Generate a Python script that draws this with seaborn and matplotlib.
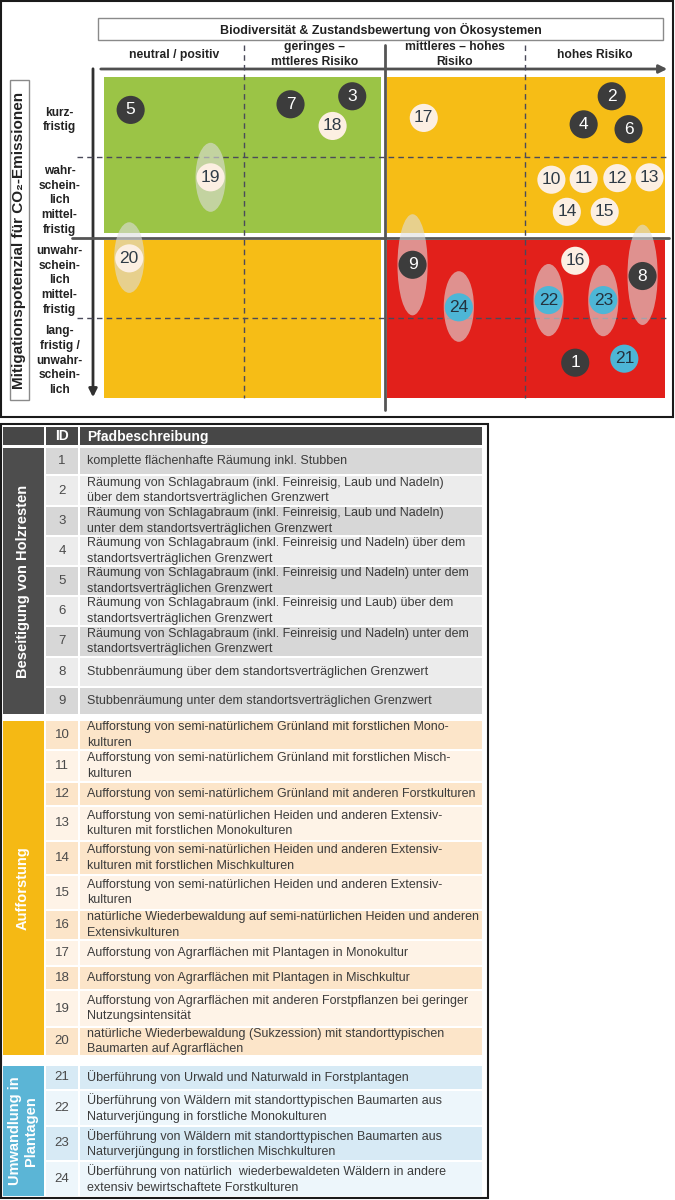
import matplotlib
matplotlib.use("Agg")
import matplotlib.pyplot as plt
from matplotlib.patches import Rectangle, Ellipse
import seaborn as sns
import pandas as pd

# --- Matrix data: x = biodiversity risk (0-4), y = mitigation timeframe (0-4, top = short-term)
path_ids = list(range(1, 25))
risk_pos = [3.36, 3.62, 1.77, 3.42, 0.19, 3.74, 1.33, 3.84, 2.20,
            3.19, 3.42, 3.66, 3.89, 3.30, 3.57, 3.36, 2.28, 1.63, 0.76, 0.18,
            3.71, 3.17, 3.56, 2.53]
time_pos = [3.56, 0.24, 0.24, 0.59, 0.41, 0.65, 0.34, 2.48, 2.34,
            1.28, 1.27, 1.26, 1.25, 1.68, 1.68, 2.29, 0.51, 0.61, 1.25, 2.26,
            3.51, 2.78, 2.78, 2.87]
path_group = ["Holzresten"] * 9 + ["Aufforstung"] * 11 + ["Plantagen"] * 4

# uncertainty ranges (drawn as ellipses)
range_ids = [19, 20, 9, 24, 22, 23, 8]
range_low = [0.82, 1.81, 1.71, 2.42, 2.33, 2.34, 1.84]
range_high = [1.68, 2.69, 2.97, 3.30, 3.23, 3.23, 3.09]

risk_labels = ["neutral / positiv", "geringes –\nmttleres Risiko",
               "mittleres – hohes\nRisiko", "hohes Risiko"]
time_labels = ["kurz-\nfristig", "wahr-\nschein-\nlich\nmittel-\nfristig",
               "unwahr-\nschein-\nlich\nmittel-\nfristig",
               "lang-\nfristig /\nunwahr-\nschein-\nlich"]

# --- Table data
group_names = ["Beseitigung von Holzresten", "Aufforstung", "Umwandlung in\nPlantagen"]
descriptions = [
    "komplette flächenhafte Räumung inkl. Stubben",
    "Räumung von Schlagabraum (inkl. Feinreisig, Laub und Nadeln)\nüber dem standortsverträglichen Grenzwert",
    "Räumung von Schlagabraum (inkl. Feinreisig, Laub und Nadeln)\nunter dem standortsverträglichen Grenzwert",
    "Räumung von Schlagabraum (inkl. Feinreisig und Nadeln) über dem\nstandortsverträglichen Grenzwert",
    "Räumung von Schlagabraum (inkl. Feinreisig und Nadeln) unter dem\nstandortsverträglichen Grenzwert",
    "Räumung von Schlagabraum (inkl. Feinreisig und Laub) über dem\nstandortsverträglichen Grenzwert",
    "Räumung von Schlagabraum (inkl. Feinreisig und Nadeln) unter dem\nstandortsverträglichen Grenzwert",
    "Stubbenräumung über dem standortsverträglichen Grenzwert",
    "Stubbenräumung unter dem standortsverträglichen Grenzwert",
    "Aufforstung von semi-natürlichem Grünland mit forstlichen Mono-\nkulturen",
    "Aufforstung von semi-natürlichem Grünland mit forstlichen Misch-\nkulturen",
    "Aufforstung von semi-natürlichem Grünland mit anderen Forstkulturen",
    "Aufforstung von semi-natürlichen Heiden und anderen Extensiv-\nkulturen mit forstlichen Monokulturen",
    "Aufforstung von semi-natürlichen Heiden und anderen Extensiv-\nkulturen mit forstlichen Mischkulturen",
    "Aufforstung von semi-natürlichen Heiden und anderen Extensiv-\nkulturen",
    "natürliche Wiederbewaldung auf semi-natürlichen Heiden und anderen\nExtensivkulturen",
    "Aufforstung von Agrarflächen mit Plantagen in Monokultur",
    "Aufforstung von Agrarflächen mit Plantagen in Mischkultur",
    "Aufforstung von Agrarflächen mit anderen Forstpflanzen bei geringer\nNutzungsintensität",
    "natürliche Wiederbewaldung (Sukzession) mit standorttypischen\nBaumarten auf Agrarflächen",
    "Überführung von Urwald und Naturwald in Forstplantagen",
    "Überführung von Wäldern mit standorttypischen Baumarten aus\nNaturverjüngung in forstliche Monokulturen",
    "Überführung von Wäldern mit standorttypischen Baumarten aus\nNaturverjüngung in forstlichen Mischkulturen",
    "Überführung von natürlich  wiederbewaldeten Wäldern in andere\nextensiv bewirtschaftete Forstkulturen",
]

# layout (pixel edges of table rows, per group)
group_edges = [
    [448, 476, 507, 537, 567, 597, 627, 658, 688, 716],
    [721, 751, 783, 807, 842, 876, 911, 941, 967, 991, 1028, 1057],
    [1066, 1091, 1127, 1162, 1198],
]

# colours
bubble_colors = {"Holzresten": "#3c3c3c", "Aufforstung": "#fcefe2", "Plantagen": "#4db6d6"}
number_colors = {"Holzresten": "white", "Aufforstung": "#2f3b46", "Plantagen": "#24323e"}
side_colors = ["#4d4d4d", "#f5b914", "#5bb5d6"]
row_colors = [("#d7d7d7", "#ececec"), ("#fce5c9", "#fef3e7"), ("#d7eaf5", "#edf6fb")]

sns.set_theme(style="white")
NARROW = ["Liberation Sans Narrow", "Liberation Sans", "DejaVu Sans"]
plt.rcParams["font.family"] = ["Liberation Sans", "DejaVu Sans"]

fig = plt.figure(figsize=(6.75, 12), dpi=100)
fig.patch.set_facecolor("white")

# background axes in pixel coordinates
bg = fig.add_axes([0, 0, 1, 1])
bg.set_xlim(0, 675)
bg.set_ylim(1200, 0)
bg.axis("off")

# outer frame of matrix figure
bg.add_patch(Rectangle((1, 1), 672, 416, fill=False, ec="#1a1a1a", lw=1.5))
# header box
bg.add_patch(Rectangle((98, 18), 565, 22, fc="white", ec="#8a8a8a", lw=1))
bg.text(381, 29.5, "Biodiversität & Zustandsbewertung von Ökosystemen", ha="center",
        va="center", fontsize=9, fontweight="bold", color="#222", family=NARROW)
# y title box
bg.add_patch(Rectangle((10, 80), 19, 320, fc="white", ec="#8a8a8a", lw=1))
bg.text(19.5, 240, "Mitigationspotenzial für CO₂-Emissionen", rotation=90, ha="center",
        va="center", fontsize=11, fontweight="bold", color="#222")
# axis arrows
bg.annotate("", xy=(670, 69), xytext=(98, 69),
            arrowprops=dict(arrowstyle="-|>", color="#505050", lw=2, mutation_scale=12))
bg.annotate("", xy=(93, 400), xytext=(93, 66),
            arrowprops=dict(arrowstyle="-|>", color="#303030", lw=2, mutation_scale=12))

# ---------------- matrix axes
ax = fig.add_axes([104 / 675, 1 - 398 / 1200, 561 / 675, 321 / 1200])
ax.set_xlim(0, 4)
ax.set_ylim(4, 0)
for s in ax.spines.values():
    s.set_visible(False)
ax.set_facecolor("none")

quad = [((0, 0), 1.975, 1.95, "#9bc446"), ((2.02, 0), 1.98, 1.95, "#f6bd16"),
        ((0, 2.03), 1.975, 1.97, "#f6bd16"), ((2.02, 2.03), 1.98, 1.97, "#e2201b")]
for (x0, y0), w, h, c in quad:
    ax.add_patch(Rectangle((x0, y0), w, h, fc=c, ec="none", zorder=0))

# grid lines
ax.plot([2, 2], [-0.4, 4.15], color="#555555", lw=2, clip_on=False, zorder=1)
ax.plot([-0.23, 4.03], [2, 2], color="#555555", lw=2, clip_on=False, zorder=1)
for xv in [1, 3]:
    ax.plot([xv, xv], [-0.4, 4.0], color="#4a4a5a", lw=1, ls=(0, (4, 3)), clip_on=False, zorder=1)
for yv in [1, 3]:
    ax.plot([-0.19, 4.02], [yv, yv], color="#4a4a5a", lw=1, ls=(0, (4, 3)), clip_on=False, zorder=1)

df = pd.DataFrame({"id": path_ids, "risk": risk_pos, "time": time_pos, "group": path_group})

# uncertainty ellipses
for pid, lo, hi in zip(range_ids, range_low, range_high):
    xc = df.loc[df["id"] == pid, "risk"].iloc[0]
    ax.add_patch(Ellipse((xc, (lo + hi) / 2), 0.215, hi - lo, fc="#dedede", ec="none",
                         alpha=0.6, zorder=2))

sns.scatterplot(data=df, x="risk", y="time", hue="group", palette=bubble_colors,
                s=410, linewidth=0, legend=False, ax=ax, zorder=3)
for _, r in df.iterrows():
    ax.text(r["risk"], r["time"], str(r["id"]), ha="center", va="center", fontsize=12.5,
            color=number_colors[r["group"]], family=NARROW, zorder=4)

ax.set_xlabel("")
ax.set_ylabel("")
ax.xaxis.tick_top()
ax.set_xticks([0.5, 1.5, 2.5, 3.5])
ax.set_xticklabels(risk_labels, fontsize=8.7, fontweight="bold", color="#222",
                   family=NARROW, va="center", linespacing=1.35)
ax.set_yticks([0.5, 1.5, 2.5, 3.5])
ax.set_yticklabels(time_labels, fontsize=8.6, fontweight="bold", color="#222",
                   family=NARROW, ha="center", linespacing=1.3)
ax.tick_params(axis="x", length=0, pad=16)
ax.tick_params(axis="y", length=0, pad=32)

# ---------------- table
bg.add_patch(Rectangle((1, 424), 487, 774, fill=False, ec="#1a1a1a", lw=1.5))
bg.add_patch(Rectangle((3, 427), 41, 18, fc="#474747", ec="none"))
bg.add_patch(Rectangle((46, 427), 32, 18, fc="#474747", ec="none"))
bg.add_patch(Rectangle((80, 427), 402, 18, fc="#474747", ec="none"))
bg.text(62, 436.5, "ID", ha="center", va="center", fontsize=10, fontweight="bold", color="white")
bg.text(87, 436.5, "Pfadbeschreibung", ha="left", va="center", fontsize=10,
        fontweight="bold", color="white")

k = 0
for g, edges in enumerate(group_edges):
    top, bot = edges[0], edges[-1] - 2
    bg.add_patch(Rectangle((3, top), 41, bot - top, fc=side_colors[g], ec="none"))
    bg.text(23, (top + bot) / 2, group_names[g], rotation=90, ha="center", va="center",
            fontsize=10.5, fontweight="bold", color="white", linespacing=1.1)
    for i in range(len(edges) - 1):
        y0, y1 = edges[i], edges[i + 1] - 2
        c = row_colors[g][i % 2]
        bg.add_patch(Rectangle((46, y0), 32, y1 - y0, fc=c, ec="none"))
        bg.add_patch(Rectangle((80, y0), 402, y1 - y0, fc=c, ec="none"))
        ym = (y0 + y1) / 2
        bg.text(62, ym, str(path_ids[k]), ha="center", va="center", fontsize=9.5, color="#4a4a4a")
        bg.text(87, ym, descriptions[k], ha="left", va="center", fontsize=9,
                color="#3c3c3c", linespacing=1.42)
        k += 1

fig.savefig("out.png", dpi=100, facecolor="white")
